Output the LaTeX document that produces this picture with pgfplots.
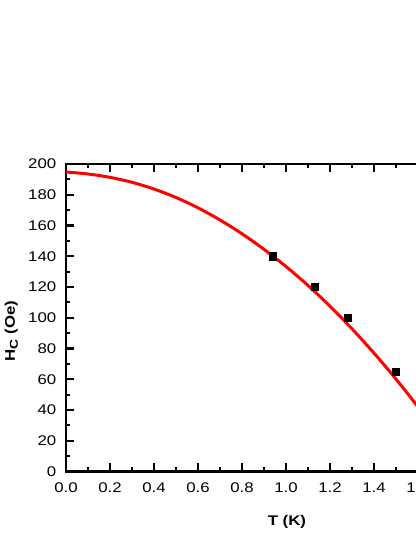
\documentclass[border=0pt]{standalone}
\usepackage{fontspec}
\setmainfont[FakeStretch=1.2]{Liberation Sans}
\usepackage{pgfplots}
\pgfplotsset{compat=1.18}

\begin{document}
\fontsize{14bp}{17bp}\selectfont
\begin{tikzpicture}[x=1bp,y=1bp]
\begin{axis}[
    at={(0,0)}, anchor=south west,
    scale only axis, width=440bp, height=307.5bp,
    xmin=0, xmax=2, ymin=0, ymax=200,
    xtick={0,0.2,0.4,0.6,0.8,1.0,1.2,1.4,1.6,1.8,2.0},
    ytick={0,20,40,60,80,100,120,140,160,180,200},
    minor x tick num=1, minor y tick num=1,
    tick align=inside,
    major tick length=8bp, minor tick length=4.5bp,
    major tick style={black, line width=2.2bp},
    minor tick style={black, line width=2.2bp},
    line width=2.6bp,
    axis line style={line width=2.6bp},
    /pgf/number format/assume math mode=true,
    tick label style={font=\fontsize{14bp}{16bp}\selectfont},
    xticklabel style={inner sep=0pt, yshift=-10bp,
        /pgf/number format/.cd, fixed, fixed zerofill, precision=1},
    yticklabel style={inner sep=0pt, xshift=-8.5bp},
    xlabel={\textbf{T (K)}},
    ylabel={\textbf{H\raisebox{-3bp}{\fontsize{11.5bp}{12bp}\selectfont C} (Oe)}},
    label style={font=\fontsize{14bp}{16bp}\selectfont},
    xlabel style={at={(axis description cs:0.502,-0.163)}, anchor=center},
    ylabel style={at={(axis description cs:-0.124,0.457)}, anchor=center},
]
\addplot[red, line width=3bp, smooth] coordinates {
    (0.0,194.8) (0.1,193.5) (0.2,191.3) (0.3,188.1) (0.4,183.7)
    (0.5,178.2) (0.6,171.5) (0.7,163.6) (0.8,154.6) (0.9,144.5)
    (1.0,133.3) (1.1,121.0) (1.2,107.5) (1.3,92.8) (1.4,77.0)
    (1.5,60.1) (1.6,42.0) (1.7,22.8) (1.8,2.7)
};
\addplot[only marks, mark=square*, mark size=3.6bp, black,
    mark options={line width=0.4bp}] coordinates {
    (0.94,140) (1.13,120) (1.28,100) (1.50,65)
};
\end{axis}
% the reference is cut off at the right: keep only that part as the page
\pgfresetboundingbox
\path[use as bounding box] (-66,-65.5) rectangle (349,471.5);
\end{tikzpicture}
\end{document}
